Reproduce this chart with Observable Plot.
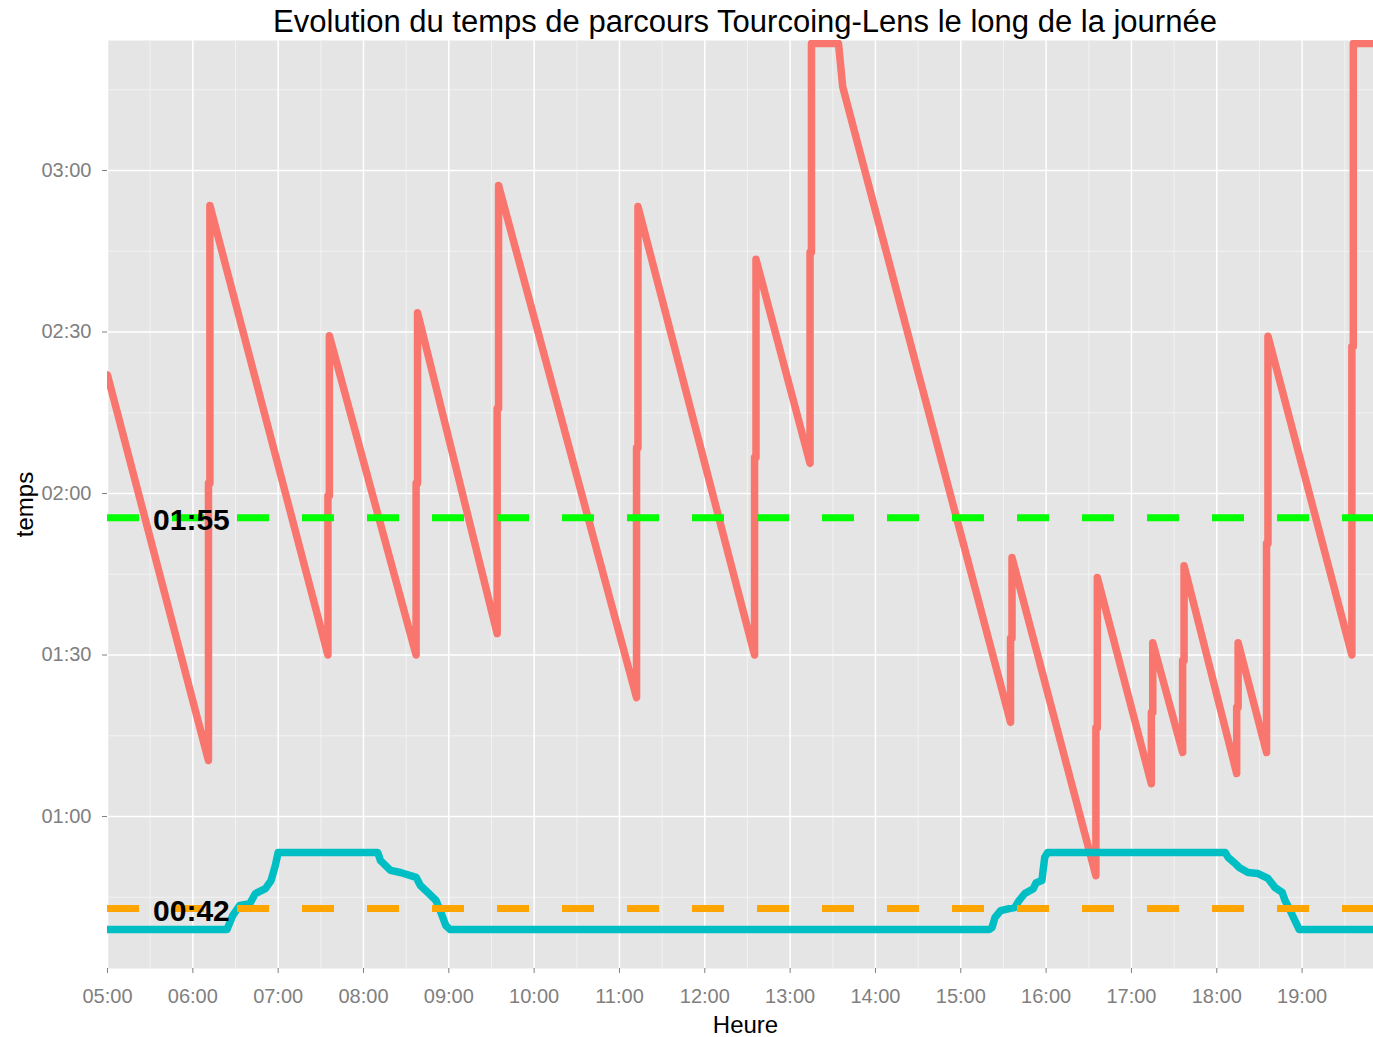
<!DOCTYPE html>
<html><head><meta charset="utf-8">
<script src="https://cdn.jsdelivr.net/npm/d3@7"></script>
<script src="https://cdn.jsdelivr.net/npm/@observablehq/plot@0.6"></script>
<style>
body{margin:0;background:#fff;font-family:"Liberation Sans",Arial,sans-serif;}
#title{height:40px;padding-left:117px;width:1256px;text-align:center;font-size:31px;line-height:44px;color:#000;white-space:nowrap;overflow:visible;}
#chart svg{display:block;}
</style></head><body>
<div id="title">Evolution du temps de parcours Tourcoing-Lens le long de la journée</div>
<div id="chart"></div>
<script>
// Red series: travel time (minutes) by departure time
const redTime = ["05:00","06:11","06:11","06:12","06:12","07:35","07:35","07:36","07:36","08:37","08:37","08:38","08:38",
  "09:34","09:34","09:35","09:35","11:12","11:12","11:13","11:13","12:35","12:35","12:36","12:36","13:14","13:14","13:15","13:15",
  "13:34","13:37","15:35","15:35","15:36","15:36","16:35","16:35","16:36","16:36","17:14","17:14","17:15","17:15",
  "17:36","17:36","17:37","17:37","18:14","18:14","18:15","18:15","18:35","18:35","18:36","18:36","19:35","19:35","19:36","19:36","19:50"];
const redValue = [142,70.4,121.9,121.9,173.5,90,119.6,119.6,149.3,90,121.9,121.9,153.6,
  94,135.8,135.8,177.2,82.1,128.5,128.5,173.3,90,126.7,126.7,163.5,125.6,164.8,164.8,203.6,
  203.6,195.5,77.5,93.1,93.1,108.1,49,76.5,76.5,104.4,66.1,79.3,79.3,92.3,
  71.9,89,89,106.6,68,80.3,80.3,92.3,71.9,110.7,110.7,149.2,90,147.3,147.3,203.6,203.6];

// Cyan series
const blueTime = ["05:00","06:24","06:28","06:33","06:40","06:44","06:51","06:55","06:58","07:00","08:10","08:12","08:19","08:26",
  "08:37","08:40","08:46","08:51","08:54","08:58","09:01","15:20","15:22","15:24","15:28","15:34","15:38","15:41","15:45",
  "15:51","15:53","15:57","15:59","16:01","18:06","18:08","18:12","18:16","18:22","18:29","18:36","18:41","18:46","18:48",
  "18:51","18:54","18:58","19:50"];
const blueValue = [39,39,41.6,43.5,43.8,45.7,46.6,48.1,50.9,53.3,53.3,51.8,50.0,49.6,
  48.7,47.2,45.7,44.4,42.5,39.7,39,39,39.4,41.2,42.5,42.9,43.1,44.4,45.7,
  46.6,47.7,48.1,52.4,53.3,53.3,52.4,51.5,50.5,49.6,49.4,48.5,46.8,45.9,44.4,
  42.9,41.2,39,39];

// Reference lines (mean values) and their labels
const refLabels = ["01:55","00:42"];
const refValues = [115.5, 42.9];
const refColors = ["#00FF00","#FFA500"];
const refLabelTime = "05:59";

// Ticks
const xTickLabels = ["05:00","06:00","07:00","08:00","09:00","10:00","11:00","12:00","13:00","14:00","15:00","16:00","17:00","18:00","19:00"];
const xMinorLabels = ["05:30","06:30","07:30","08:30","09:30","10:30","11:30","12:30","13:30","14:30","15:30","16:30","17:30","18:30","19:30"];
const yTickLabels = ["01:00","01:30","02:00","02:30","03:00"];
const yMinorLabels = ["00:45","01:15","01:45","02:15","02:45","03:15"];

const toMin = s => { const [h, m] = s.split(":").map(Number); return h * 60 + m; };
const fmt = v => String(Math.floor(v / 60)).padStart(2, "0") + ":" + String(Math.round(v % 60)).padStart(2, "0");

const red = redTime.map((t, i) => ({t: toMin(t), v: redValue[i]}));
const blue = blueTime.map((t, i) => ({t: toMin(t), v: blueValue[i]}));
const refs = refValues.map((v, i) => ({v, label: refLabels[i], color: refColors[i]}));

const grey = "#7F7F7F";
const chart = Plot.plot({
  width: 1373, height: 997,
  marginTop: 0, marginBottom: 69, marginLeft: 107, marginRight: 0,
  x: {domain: [toMin("05:00"), toMin("19:50") + 0.2]},
  y: {domain: [31.77, 204.15]},
  style: {fontFamily: "'Liberation Sans', Arial, sans-serif", background: "white", overflow: "visible"},
  marks: [
    Plot.frame({fill: "#E5E5E5", stroke: null}),
    Plot.gridX(xMinorLabels.map(toMin), {stroke: "#F2F2F2", strokeOpacity: 1, strokeWidth: 1}),
    Plot.gridY(yMinorLabels.map(toMin), {stroke: "#F2F2F2", strokeOpacity: 1, strokeWidth: 1}),
    Plot.gridX(xTickLabels.map(toMin), {stroke: "#FFFFFF", strokeOpacity: 1, strokeWidth: 1.5}),
    Plot.gridY(yTickLabels.map(toMin), {stroke: "#FFFFFF", strokeOpacity: 1, strokeWidth: 1.5}),
    Plot.line(red, {x: "t", y: "v", stroke: "#F8766D", strokeWidth: 7.5, strokeLinejoin: "round", clip: true}),
    Plot.line(blue, {x: "t", y: "v", stroke: "#00BFC4", strokeWidth: 7.5, strokeLinejoin: "round", clip: true}),
    Plot.ruleY([refs[0]], {y: "v", stroke: refs[0].color, strokeWidth: 7, strokeDasharray: "32,33"}),
    Plot.ruleY([refs[1]], {y: "v", stroke: refs[1].color, strokeWidth: 7, strokeDasharray: "32,33"}),
    Plot.text(refs, {x: toMin(refLabelTime), y: "v", text: "label", dy: 3, fontSize: 30, fontWeight: "bold", fill: "#000"}),
    Plot.axisX(xTickLabels.map(toMin), {tickFormat: fmt, tickSize: 5, tickPadding: 15, fontSize: 20, stroke: grey, fill: grey, label: null}),
    Plot.axisY(yTickLabels.map(toMin), {tickFormat: fmt, tickSize: 5, tickPadding: 11, fontSize: 20, stroke: grey, fill: grey, label: null}),
    Plot.text(["Heure"], {frameAnchor: "bottom", dx: 5, dy: 57, textAnchor: "middle", lineAnchor: "middle", fontSize: 24, fill: "#000"}),
    Plot.text(["temps"], {frameAnchor: "left", dx: -82, textAnchor: "middle", lineAnchor: "middle", rotate: -90, fontSize: 24, fill: "#000"})
  ]
});
document.getElementById("chart").appendChild(chart);
</script>
</body></html>
